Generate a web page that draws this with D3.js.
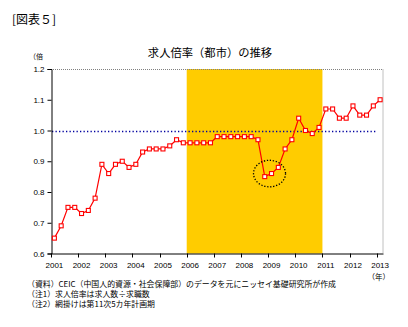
<!DOCTYPE html>
<html><head><meta charset="utf-8">
<script src="https://cdn.jsdelivr.net/npm/d3@7"></script>
<style>
html,body{margin:0;padding:0;background:#fff;}
svg{display:block;}
</style></head>
<body>
<svg id="c" width="408" height="327"></svg>
<script>
// ---- data ----
const categories = [
 "2001Q1","2001Q2","2001Q3","2001Q4","2002Q1","2002Q2","2002Q3","2002Q4",
 "2003Q1","2003Q2","2003Q3","2003Q4","2004Q1","2004Q2","2004Q3","2004Q4",
 "2005Q1","2005Q2","2005Q3","2005Q4","2006Q1","2006Q2","2006Q3","2006Q4",
 "2007Q1","2007Q2","2007Q3","2007Q4","2008Q1","2008Q2","2008Q3","2008Q4",
 "2009Q1","2009Q2","2009Q3","2009Q4","2010Q1","2010Q2","2010Q3","2010Q4",
 "2011Q1","2011Q2","2011Q3","2011Q4","2012Q1","2012Q2","2012Q3","2012Q4",
 "2013Q1"];
const ratio = [
 0.65,0.69,0.75,0.75, 0.73,0.74,0.78,0.89,
 0.86,0.89,0.90,0.88, 0.89,0.93,0.94,0.94,
 0.94,0.95,0.97,0.96, 0.96,0.96,0.96,0.96,
 0.98,0.98,0.98,0.98, 0.98,0.98,0.97,0.85,
 0.86,0.88,0.94,0.97, 1.04,1.00,0.99,1.01,
 1.07,1.07,1.04,1.04, 1.08,1.05,1.05,1.08,
 1.10];
const yearLabels = ["2001","2002","2003","2004","2005","2006","2007","2008","2009","2010","2011","2012","2013"];
const yTicks = [0.6,0.7,0.8,0.9,1.0,1.1,1.2];
const yDomain = [0.6,1.2];
const refValue = 1.0;
const shadeFrom = "2006Q1", shadeTo = "2010Q4";
const circleAt = {cat:"2009Q1", value:0.86};
const title = "求人倍率（都市）の推移";
const figLabel = "[図表５]";
const yUnit = "（倍";
const xUnit = "（年）";
const notes = [
 "（資料）CEIC（中国人的資源・社会保障部）のデータを元にニッセイ基礎研究所が作成",
 "（注1）求人倍率は求人数÷求職数",
 "（注2）網掛けは第11次5カ年計画期"];

// ---- layout ----
const L=51, R=383.5, T=69, B=253.5;
const jp = "'Noto Sans CJK JP','Noto Sans',sans-serif";
const num = "'Liberation Sans',Arial,sans-serif";
const svg = d3.select("#c");

const x = d3.scaleBand().domain(categories).range([L,R]).paddingInner(0).paddingOuter(0);
const bw = x.bandwidth();
const y = d3.scaleLinear().domain(yDomain).range([B,T]);

// shaded period
svg.append("rect")
  .attr("x", x(shadeFrom)).attr("y", T)
  .attr("width", x(shadeTo)+bw - x(shadeFrom)).attr("height", B-T)
  .attr("fill","#FFCC00");

// top/right border (dotted gray)
svg.append("path")
  .attr("d", `M${L},${T+0.5}H${R-0.5}V${B}`)
  .attr("fill","none").attr("stroke","#808080").attr("stroke-width",1)
  .attr("stroke-dasharray","1,1");

// reference line at 1.0
svg.append("line")
  .attr("x1", L+1).attr("x2", x(categories[categories.length-1]))
  .attr("y1", Math.round(y(refValue))+0.5).attr("y2", Math.round(y(refValue))+0.5)
  .attr("stroke","#0000A0").attr("stroke-width",1.3)
  .attr("stroke-dasharray","1.3,2.2");

// y axis
const ya = svg.append("g").attr("transform",`translate(${L+0.5},0)`)
  .call(d3.axisLeft(y).tickValues(yTicks).tickSize(4).tickPadding(3).tickFormat(d3.format(".1f")));
ya.select(".domain").attr("stroke","#000");
ya.selectAll("text").attr("font-family",num).attr("font-size","8px").attr("fill","#000");

// x axis
const yearTickCats = yearLabels.map(yv=>yv+"Q1");
const xa = svg.append("g").attr("transform",`translate(0,${B})`);
xa.append("line").attr("x1",L).attr("x2",R).attr("y1",0.5).attr("y2",0.5).attr("stroke","#000");
xa.selectAll("line.tk").data(yearTickCats).enter().append("line").attr("class","tk")
  .attr("x1",d=>Math.round(x(d))+0.5).attr("x2",d=>Math.round(x(d))+0.5)
  .attr("y1",0).attr("y2",4).attr("stroke","#000");
xa.selectAll("text").data(yearLabels).enter().append("text")
  .attr("x",d=>x(d+"Q1")+bw/2).attr("y",14)
  .attr("text-anchor","middle").attr("font-family",num).attr("font-size","8px").text(d=>d);

// series line
const line = d3.line().x((d,i)=>x(categories[i])+bw/2).y(d=>y(d));
svg.append("path").datum(ratio).attr("d",line)
  .attr("fill","none").attr("stroke","#FF0000").attr("stroke-width",1.2);
svg.selectAll("rect.mk").data(ratio).enter().append("rect").attr("class","mk")
  .attr("x",(d,i)=>x(categories[i])+bw/2-2).attr("y",d=>y(d)-2)
  .attr("width",4).attr("height",4)
  .attr("fill","#fff").attr("stroke","#FF0000").attr("stroke-width",1.1);

// dotted circle around the 2009 dip
svg.append("ellipse")
  .attr("cx", x(circleAt.cat)+bw/2-2).attr("cy", y(circleAt.value))
  .attr("rx",16).attr("ry",13.3)
  .attr("fill","none").attr("stroke","#000").attr("stroke-width",1.3)
  .attr("stroke-dasharray","1.3,1.7");

// texts
svg.append("text").attr("x",12).attr("y",24).attr("font-family",jp).attr("font-size","12px").text(figLabel);
svg.append("text").attr("x",210).attr("y",57).attr("text-anchor","middle")
  .attr("font-family",jp).attr("font-size","11.3px").text(title);
svg.append("text").attr("x",29).attr("y",59).attr("font-family",jp).attr("font-size","7px").text(yUnit);
svg.append("text").attr("x",390).attr("y",280).attr("text-anchor","end")
  .attr("font-family",jp).attr("font-size","7.5px").text(xUnit);
svg.selectAll("text.note").data(notes).enter().append("text").attr("class","note")
  .attr("x",27).attr("y",(d,i)=>286.5+i*10)
  .attr("font-family",jp).attr("font-size","7.9px").text(d=>d);
</script>
</body></html>
